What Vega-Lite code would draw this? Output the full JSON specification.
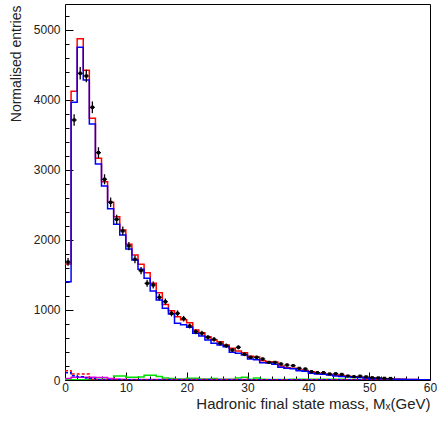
{
  "$schema": "https://vega.github.io/schema/vega-lite/v6.json",
  "width": 365,
  "height": 376,
  "autosize": {"type": "none"},
  "padding": {"left": 65, "top": 4, "right": 7, "bottom": 41},
  "background": "white",
  "config": {
    "view": {"stroke": "#000", "strokeWidth": 1},
    "font": "Liberation Sans",
    "axis": {"titleFont": "Liberation Sans", "titleFontSize": 14, "titleFontWeight": "normal", "titleColor": "#222",
      "labelFont": "Liberation Sans", "labelFontSize": 12, "labelColor": "#222", "labelFlush": false, "labelOverlap": false,
      "tickColor": "#000", "tickWidth": 1, "domain": false, "grid": false},
    "axisX": {"titleAnchor": "end", "titleAlign": "right", "titleBaseline": "alphabetic", "titleX": 365, "titleY": 28, "titleFontSize": 15, "labelPadding": 10},
    "axisY": {"titleAngle": -90, "titleAlign": "right", "titleBaseline": "alphabetic", "titleX": -45, "titleY": 1, "labelPadding": 13}
  },
  "data": {"values": [
    {"lo":0,"c":0.5,"red":1657,"blue":1404,"dat":1686,"err":55,"grn":3,"mag":20,"rd":133,"bd":105},
    {"lo":1,"c":1.5,"red":4124,"blue":3967,"dat":3714,"err":82,"grn":3,"mag":38,"rd":86,"bd":60},
    {"lo":2,"c":2.5,"red":4876,"blue":4752,"dat":4381,"err":89,"grn":3,"mag":38,"rd":86,"bd":45},
    {"lo":3,"c":3.5,"red":4424,"blue":4286,"dat":4343,"err":89,"grn":3,"mag":38,"rd":86,"bd":30},
    {"lo":4,"c":4.5,"red":3738,"blue":3657,"dat":3895,"err":84,"grn":3,"mag":38,"rd":10,"bd":20},
    {"lo":5,"c":5.5,"red":3167,"blue":3086,"dat":3248,"err":77,"grn":12,"mag":35,"rd":3,"bd":2},
    {"lo":6,"c":6.5,"red":2833,"blue":2771,"dat":2867,"err":72,"grn":12,"mag":35,"rd":3,"bd":2},
    {"lo":7,"c":7.5,"red":2538,"blue":2447,"dat":2538,"err":68,"grn":12,"mag":20,"rd":3,"bd":2},
    {"lo":8,"c":8.5,"red":2333,"blue":2224,"dat":2295,"err":65,"grn":57,"mag":15,"rd":3,"bd":2},
    {"lo":9,"c":9.5,"red":2143,"blue":2071,"dat":2129,"err":62,"grn":57,"mag":12,"rd":3,"bd":2},
    {"lo":10,"c":10.5,"red":1938,"blue":1871,"dat":1914,"err":59,"grn":38,"mag":8,"rd":3,"bd":2},
    {"lo":11,"c":11.5,"red":1786,"blue":1714,"dat":1724,"err":56,"grn":38,"mag":8,"rd":3,"bd":2},
    {"lo":12,"c":12.5,"red":1652,"blue":1581,"dat":1562,"err":53,"grn":43,"mag":8,"rd":3,"bd":2},
    {"lo":13,"c":13.5,"red":1533,"blue":1455,"dat":1381,"err":50,"grn":67,"mag":8,"rd":3,"bd":2},
    {"lo":14,"c":14.5,"red":1381,"blue":1271,"dat":1357,"err":50,"grn":67,"mag":8,"rd":3,"bd":2},
    {"lo":15,"c":15.5,"red":1248,"blue":1143,"dat":1181,"err":46,"grn":50,"mag":8,"rd":3,"bd":2},
    {"lo":16,"c":16.5,"red":1080,"blue":1024,"dat":1119,"err":45,"grn":30,"mag":8,"rd":3,"bd":2},
    {"lo":17,"c":17.5,"red":990,"blue":943,"dat":952,"err":42,"grn":20,"mag":8,"rd":3,"bd":2},
    {"lo":18,"c":18.5,"red":905,"blue":810,"dat":952,"err":42,"grn":15,"mag":8,"rd":3,"bd":2},
    {"lo":19,"c":19.5,"red":860,"blue":790,"dat":876,"err":40,"grn":15,"mag":8,"rd":3,"bd":2},
    {"lo":20,"c":20.5,"red":819,"blue":752,"dat":771,"err":37,"grn":25,"mag":8,"rd":3,"bd":2},
    {"lo":21,"c":21.5,"red":714,"blue":667,"dat":690,"err":35,"grn":25,"mag":8,"rd":3,"bd":2},
    {"lo":22,"c":22.5,"red":676,"blue":629,"dat":667,"err":35,"grn":15,"mag":8,"rd":3,"bd":2},
    {"lo":23,"c":23.5,"red":619,"blue":571,"dat":610,"err":33,"grn":15,"mag":8,"rd":3,"bd":2},
    {"lo":24,"c":24.5,"red":571,"blue":524,"dat":581,"err":33,"grn":20,"mag":8,"rd":3,"bd":2},
    {"lo":25,"c":25.5,"red":548,"blue":500,"dat":524,"err":31,"grn":12,"mag":8,"rd":3,"bd":2},
    {"lo":26,"c":26.5,"red":500,"blue":476,"dat":490,"err":30,"grn":10,"mag":8,"rd":3,"bd":2},
    {"lo":27,"c":27.5,"red":452,"blue":395,"dat":429,"err":28,"grn":10,"mag":8,"rd":3,"bd":2},
    {"lo":28,"c":28.5,"red":414,"blue":381,"dat":467,"err":29,"grn":30,"mag":8,"rd":3,"bd":2},
    {"lo":29,"c":29.5,"red":390,"blue":357,"dat":367,"err":26,"grn":38,"mag":8,"rd":3,"bd":2},
    {"lo":30,"c":30.5,"red":340,"blue":300,"dat":324,"err":24,"grn":10,"mag":5,"rd":3,"bd":2},
    {"lo":31,"c":31.5,"red":330,"blue":290,"dat":324,"err":24,"grn":30,"mag":5,"rd":3,"bd":2},
    {"lo":32,"c":32.5,"red":276,"blue":248,"dat":300,"err":23,"grn":10,"mag":5,"rd":3,"bd":2},
    {"lo":33,"c":33.5,"red":262,"blue":243,"dat":252,"err":21,"grn":8,"mag":5,"rd":3,"bd":2},
    {"lo":34,"c":34.5,"red":257,"blue":225,"dat":252,"err":21,"grn":8,"mag":5,"rd":3,"bd":2},
    {"lo":35,"c":35.5,"red":200,"blue":181,"dat":229,"err":20,"grn":8,"mag":5,"rd":3,"bd":2},
    {"lo":36,"c":36.5,"red":176,"blue":167,"dat":214,"err":20,"grn":8,"mag":5,"rd":3,"bd":2},
    {"lo":37,"c":37.5,"red":167,"blue":162,"dat":205,"err":19,"grn":12,"mag":5,"rd":3,"bd":2},
    {"lo":38,"c":38.5,"red":143,"blue":133,"dat":167,"err":17,"grn":12,"mag":5,"rd":3,"bd":2},
    {"lo":39,"c":39.5,"red":137,"blue":124,"dat":157,"err":17,"grn":12,"mag":5,"rd":3,"bd":2},
    {"lo":40,"c":40.5,"red":119,"blue":95,"dat":119,"err":15,"grn":12,"mag":3,"rd":3,"bd":2},
    {"lo":41,"c":41.5,"red":95,"blue":86,"dat":105,"err":14,"grn":12,"mag":3,"rd":3,"bd":2},
    {"lo":42,"c":42.5,"red":86,"blue":81,"dat":105,"err":14,"grn":10,"mag":3,"rd":3,"bd":2},
    {"lo":43,"c":43.5,"red":80,"blue":71,"dat":86,"err":13,"grn":10,"mag":3,"rd":3,"bd":2},
    {"lo":44,"c":44.5,"red":70,"blue":57,"dat":90,"err":13,"grn":10,"mag":3,"rd":3,"bd":2},
    {"lo":45,"c":45.5,"red":60,"blue":50,"dat":80,"err":12,"grn":10,"mag":3,"rd":3,"bd":2},
    {"lo":46,"c":46.5,"red":52,"blue":45,"dat":57,"err":10,"grn":8,"mag":3,"rd":3,"bd":2},
    {"lo":47,"c":47.5,"red":45,"blue":40,"dat":48,"err":9,"grn":8,"mag":3,"rd":3,"bd":2},
    {"lo":48,"c":48.5,"red":38,"blue":34,"dat":55,"err":10,"grn":6,"mag":3,"rd":3,"bd":2},
    {"lo":49,"c":49.5,"red":32,"blue":29,"dat":45,"err":9,"grn":6,"mag":3,"rd":3,"bd":2},
    {"lo":50,"c":50.5,"red":27,"blue":25,"dat":33,"err":8,"grn":5,"mag":3,"rd":3,"bd":2},
    {"lo":51,"c":51.5,"red":23,"blue":21,"dat":30,"err":7,"grn":5,"mag":3,"rd":3,"bd":2},
    {"lo":52,"c":52.5,"red":19,"blue":18,"dat":24,"err":7,"grn":4,"mag":3,"rd":3,"bd":2},
    {"lo":53,"c":53.5,"red":16,"blue":15,"dat":22,"err":6,"grn":4,"mag":3,"rd":3,"bd":2},
    {"lo":54,"c":54.5,"red":13,"blue":12,"dat":null,"err":null,"grn":3,"mag":3,"rd":3,"bd":2},
    {"lo":55,"c":55.5,"red":10,"blue":10,"dat":null,"err":null,"grn":3,"mag":3,"rd":3,"bd":2},
    {"lo":56,"c":56.5,"red":8,"blue":8,"dat":null,"err":null,"grn":2,"mag":3,"rd":3,"bd":2},
    {"lo":57,"c":57.5,"red":6,"blue":6,"dat":null,"err":null,"grn":2,"mag":3,"rd":3,"bd":2},
    {"lo":58,"c":58.5,"red":5,"blue":5,"dat":null,"err":null,"grn":2,"mag":3,"rd":3,"bd":2},
    {"lo":59,"c":59.5,"red":4,"blue":4,"dat":null,"err":null,"grn":2,"mag":3,"rd":3,"bd":2},
    {"lo":60,"c":null,"red":4,"blue":4,"dat":null,"err":null,"grn":2,"mag":3,"rd":3,"bd":2}
  ]},
  "layer": [
    {
      "transform": [{"fold": ["grn", "mag", "rd", "bd", "red", "blue"], "as": ["series", "v"]}],
      "mark": {"type": "line", "interpolate": "step-after", "clip": true},
      "encoding": {
        "x": {"field": "lo", "type": "quantitative", "scale": {"domain": [0, 60], "nice": false, "zero": false},
          "axis": {"title": "Hadronic final state mass, Mₓ(GeV)",
            "values": [0,2,4,6,8,10,12,14,16,18,20,22,24,26,28,30,32,34,36,38,40,42,44,46,48,50,52,54,56,58,60],
            "labelExpr": "datum.value % 10 === 0 ? datum.label : ''",
            "tickSize": {"condition": {"test": "datum.value % 10 === 0", "value": -8}, "value": -4}}},
        "y": {"field": "v", "type": "quantitative", "scale": {"domain": [0, 5371], "nice": false},
          "axis": {"title": "Normalised entries",
            "values": [0,200,400,600,800,1000,1200,1400,1600,1800,2000,2200,2400,2600,2800,3000,3200,3400,3600,3800,4000,4200,4400,4600,4800,5000,5200],
            "labelExpr": "datum.value % 1000 === 0 ? datum.label : ''", "format": "d",
            "tickSize": {"condition": {"test": "datum.value % 1000 === 0", "value": -8}, "value": -4}}},
        "color": {"field": "series", "type": "nominal", "legend": null,
          "scale": {"domain": ["grn", "mag", "rd", "bd", "red", "blue"], "range": ["#00e000", "#e000e0", "#ff0000", "#0000ff", "#ff0000", "#0000ff"]}},
        "strokeDash": {"field": "series", "type": "nominal", "legend": null,
          "scale": {"domain": ["grn", "mag", "rd", "bd", "red", "blue"], "range": [[1, 0], [1, 0], [3, 2], [3, 2], [1, 0], [1, 0]]}},
        "strokeWidth": {"field": "series", "type": "nominal", "legend": null,
          "scale": {"domain": ["grn", "mag", "rd", "bd", "red", "blue"], "range": [1.5, 1.5, 1.2, 1.2, 1.5, 1.5]}},
        "order": {"field": "lo", "type": "quantitative"}
      }
    },
    {
      "transform": [{"filter": "isValid(datum.dat)"}],
      "mark": {"type": "errorbar", "color": "#000", "thickness": 1.3},
      "encoding": {
        "x": {"field": "c", "type": "quantitative",
          "axis": {"title": "Hadronic final state mass, Mₓ(GeV)",
            "values": [0,2,4,6,8,10,12,14,16,18,20,22,24,26,28,30,32,34,36,38,40,42,44,46,48,50,52,54,56,58,60],
            "labelExpr": "datum.value % 10 === 0 ? datum.label : ''",
            "tickSize": {"condition": {"test": "datum.value % 10 === 0", "value": -8}, "value": -4}}},
        "y": {"field": "dat", "type": "quantitative",
          "axis": {"title": "Normalised entries",
            "values": [0,200,400,600,800,1000,1200,1400,1600,1800,2000,2200,2400,2600,2800,3000,3200,3400,3600,3800,4000,4200,4400,4600,4800,5000,5200],
            "labelExpr": "datum.value % 1000 === 0 ? datum.label : ''", "format": "d",
            "tickSize": {"condition": {"test": "datum.value % 1000 === 0", "value": -8}, "value": -4}}},
        "yError": {"field": "err"}
      }
    },
    {
      "transform": [{"filter": "isValid(datum.dat)"}],
      "mark": {"type": "tick", "orient": "horizontal", "color": "#000", "size": 5, "thickness": 1.3, "opacity": 1},
      "encoding": {
        "x": {"field": "c", "type": "quantitative",
          "axis": {"title": "Hadronic final state mass, Mₓ(GeV)",
            "values": [0,2,4,6,8,10,12,14,16,18,20,22,24,26,28,30,32,34,36,38,40,42,44,46,48,50,52,54,56,58,60],
            "labelExpr": "datum.value % 10 === 0 ? datum.label : ''",
            "tickSize": {"condition": {"test": "datum.value % 10 === 0", "value": -8}, "value": -4}}},
        "y": {"field": "dat", "type": "quantitative",
          "axis": {"title": "Normalised entries",
            "values": [0,200,400,600,800,1000,1200,1400,1600,1800,2000,2200,2400,2600,2800,3000,3200,3400,3600,3800,4000,4200,4400,4600,4800,5000,5200],
            "labelExpr": "datum.value % 1000 === 0 ? datum.label : ''", "format": "d",
            "tickSize": {"condition": {"test": "datum.value % 1000 === 0", "value": -8}, "value": -4}}}
      }
    },
    {
      "transform": [{"filter": "isValid(datum.dat)"}],
      "mark": {"type": "point", "shape": "square", "filled": true, "color": "#000", "size": 10, "opacity": 1},
      "encoding": {
        "x": {"field": "c", "type": "quantitative",
          "axis": {"title": "Hadronic final state mass, Mₓ(GeV)",
            "values": [0,2,4,6,8,10,12,14,16,18,20,22,24,26,28,30,32,34,36,38,40,42,44,46,48,50,52,54,56,58,60],
            "labelExpr": "datum.value % 10 === 0 ? datum.label : ''",
            "tickSize": {"condition": {"test": "datum.value % 10 === 0", "value": -8}, "value": -4}}},
        "y": {"field": "dat", "type": "quantitative",
          "axis": {"title": "Normalised entries",
            "values": [0,200,400,600,800,1000,1200,1400,1600,1800,2000,2200,2400,2600,2800,3000,3200,3400,3600,3800,4000,4200,4400,4600,4800,5000,5200],
            "labelExpr": "datum.value % 1000 === 0 ? datum.label : ''", "format": "d",
            "tickSize": {"condition": {"test": "datum.value % 1000 === 0", "value": -8}, "value": -4}}}
      }
    }
  ]
}
